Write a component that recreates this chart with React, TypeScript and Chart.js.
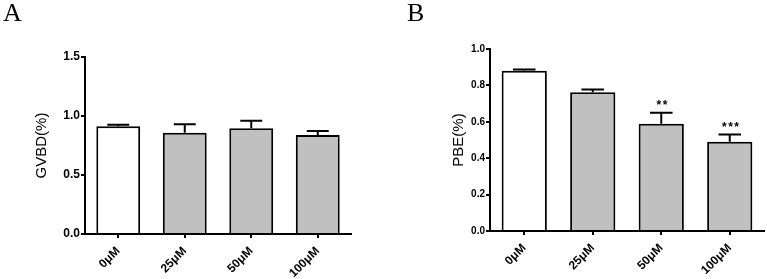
import React, { useEffect, useRef } from "react";
import { Chart, registerables } from "chart.js";

Chart.register(...registerables);

const categories = ["0μM", "25μM", "50μM", "100μM"];
const gvbdValues = [0.913, 0.858, 0.896, 0.839];
const gvbdErrTop = [0.925, 0.93, 0.96, 0.873];
const pbeValues = [0.88, 0.762, 0.589, 0.49];
const pbeErrTop = [0.888, 0.778, 0.65, 0.53];
const pbeStars = ["", "", "**", "***"];
const barColors = ["#ffffff", "#c0c0c0", "#c0c0c0", "#c0c0c0"];

const FONT = "'Liberation Sans', Arial, sans-serif";

const errorBarPlugin = {
  id: "errorBars",
  afterDatasetsDraw(chart: any, _args: any, opts: any) {
    const { ctx } = chart;
    const meta = chart.getDatasetMeta(0);
    const yScale = chart.scales.y;
    ctx.save();
    ctx.strokeStyle = "#000";
    ctx.lineWidth = 2;
    meta.data.forEach((bar: any, i: number) => {
      const top = opts.errTop[i];
      const yErr = yScale.getPixelForValue(top);
      const x = bar.x;
      const half = bar.width * 0.25;
      ctx.beginPath();
      ctx.moveTo(x, bar.y);
      ctx.lineTo(x, yErr);
      ctx.moveTo(x - half, yErr);
      ctx.lineTo(x + half, yErr);
      ctx.stroke();
      const star = opts.stars ? opts.stars[i] : "";
      if (star) {
        ctx.fillStyle = "#000";
        ctx.font = `bold 12px ${FONT}`;
        try {
          (ctx as any).letterSpacing = "1.5px";
        } catch (e) {}
        ctx.textAlign = "center";
        ctx.textBaseline = "middle";
        ctx.fillText(star, x + 1.5, yErr - 7);
      }
    });
    ctx.restore();
  },
};

type Cfg = {
  values: number[];
  errTop: number[];
  stars?: string[];
  title: string;
  max: number;
  step: number;
  yWidth: number;
  xHeight: number;
  padTop: number;
  padRight: number;
  titlePad: number;
  titleSize: number;
  yTickSize: number;
  xTickSize: number;
};

function BarPanel({ cfg, width, height }: { cfg: Cfg; width: number; height: number }) {
  const ref = useRef<HTMLCanvasElement | null>(null);
  useEffect(() => {
    if (!ref.current) return;
    const chart = new Chart(ref.current, {
      type: "bar",
      data: {
        labels: categories,
        datasets: [
          {
            data: cfg.values,
            backgroundColor: barColors,
            borderColor: "#000",
            borderWidth: 2,
            categoryPercentage: 1,
            barPercentage: 0.66,
          },
        ],
      },
      options: {
        animation: false,
        responsive: false,
        maintainAspectRatio: false,
        layout: { padding: { top: cfg.padTop, right: cfg.padRight, left: 0, bottom: 0 } },
        plugins: {
          legend: { display: false },
          tooltip: { enabled: false },
          errorBars: { errTop: cfg.errTop, stars: cfg.stars },
        } as any,
        scales: {
          x: {
            offset: true,
            afterFit: (s: any) => {
              s.height = cfg.xHeight;
            },
            grid: {
              display: true,
              offset: false,
              drawOnChartArea: false,
              drawTicks: true,
              tickLength: 4,
              color: "#000",
              lineWidth: 2,
            },
            border: { display: true, color: "#000", width: 2 },
            ticks: {
              color: "#000",
              font: { family: FONT, size: cfg.xTickSize, weight: "bold" },
              minRotation: 45,
              maxRotation: 45,
              autoSkip: false,
              padding: 6,
            },
          },
          y: {
            min: 0,
            max: cfg.max,
            afterFit: (s: any) => {
              s.width = cfg.yWidth;
            },
            grid: {
              display: true,
              drawOnChartArea: false,
              drawTicks: true,
              tickLength: 4,
              color: "#000",
              lineWidth: 2,
            },
            border: { display: true, color: "#000", width: 2 },
            ticks: {
              stepSize: cfg.step,
              color: "#000",
              padding: 1,
              font: { family: FONT, size: cfg.yTickSize, weight: "bold" },
              callback: (v: any) => Number(v).toFixed(1),
            },
            title: {
              display: true,
              text: cfg.title,
              color: "#000",
              font: { family: FONT, size: cfg.titleSize, weight: "normal" },
              padding: { top: cfg.titlePad, bottom: 0 },
            },
          },
        },
      },
      plugins: [errorBarPlugin],
    });
    return () => chart.destroy();
  }, []);
  return <canvas ref={ref} width={width} height={height} style={{ width, height, display: "block" }} />;
}

const cfgA: Cfg = {
  values: gvbdValues,
  errTop: gvbdErrTop,
  title: "GVBD(%)",
  max: 1.5,
  step: 0.5,
  yWidth: 85,
  xHeight: 45,
  padTop: 57,
  padRight: 32,
  titlePad: 33,
  titleSize: 15,
  yTickSize: 12,
  xTickSize: 12,
};

const cfgB: Cfg = {
  values: pbeValues,
  errTop: pbeErrTop,
  stars: pbeStars,
  title: "PBE(%)",
  max: 1.0,
  step: 0.2,
  yWidth: 107,
  xHeight: 48,
  padTop: 49,
  padRight: 3,
  titlePad: 67,
  titleSize: 15,
  yTickSize: 10,
  xTickSize: 12,
};

export default function App() {
  useEffect(() => {
    document.body.style.margin = "0";
    document.body.style.background = "#fff";
  }, []);
  const letter: React.CSSProperties = {
    position: "absolute",
    top: 0,
    fontFamily: "'Liberation Serif', 'Times New Roman', serif",
    fontSize: 26,
    lineHeight: "26px",
    color: "#000",
  };
  return (
    <div style={{ position: "relative", width: 767, height: 279, background: "#fff", overflow: "hidden" }}>
      <div style={{ position: "absolute", left: 0, top: 0 }}>
        <BarPanel cfg={cfgA} width={383} height={279} />
      </div>
      <div style={{ position: "absolute", left: 383, top: 0 }}>
        <BarPanel cfg={cfgB} width={384} height={279} />
      </div>
      <div style={{ ...letter, left: 3 }}>A</div>
      <div style={{ ...letter, left: 407 }}>B</div>
    </div>
  );
}
